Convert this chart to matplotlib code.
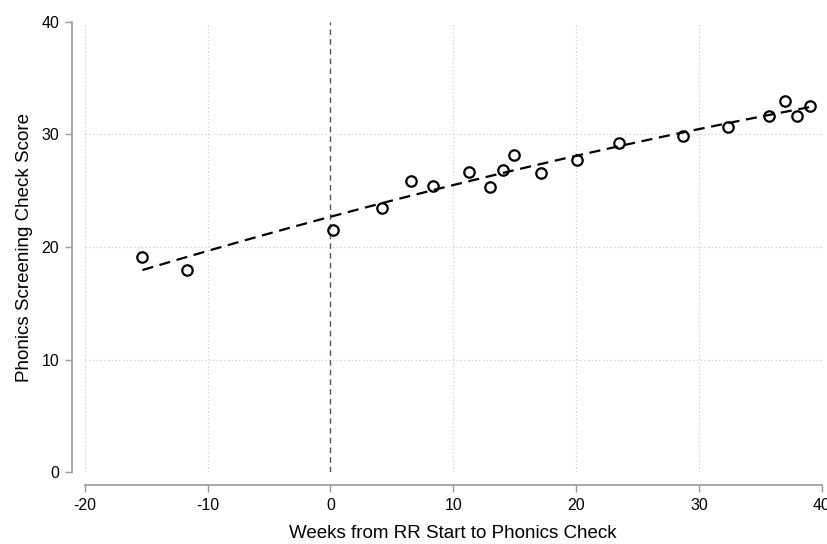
import matplotlib.pyplot as plt
import numpy as np

plt.rcParams['font.family'] = ['Liberation Sans', 'DejaVu Sans']
plt.rcParams['axes.unicode_minus'] = False

# binned means: weeks from RR start vs phonics score
weeks = [-15.3, -11.7, 0.25, 4.2, 6.6, 8.35, 11.3, 13.0, 14.05, 14.95,
         17.15, 20.1, 23.5, 28.7, 32.4, 35.7, 37.05, 38.0, 39.05]
score = [19.1, 17.95, 21.5, 23.45, 25.85, 25.4, 26.65, 25.3, 26.85, 28.15,
         26.55, 27.7, 29.2, 29.85, 30.65, 31.6, 32.95, 31.65, 32.5]

xticks = [-20, -10, 0, 10, 20, 30, 40]
yticks = [0, 10, 20, 30, 40]

fig = plt.figure(figsize=(8.28, 5.44), dpi=100)
ax = fig.add_axes([0.1023, 0.1318, 0.8901, 0.8283])

# grid (Stata style, dotted)
for gx in [-20, -10, 10, 20, 30, 40]:
    ax.axvline(gx, color='#d0d0d0', lw=0.9, ls=(0, (1, 2)), zorder=0)
for gy in [10, 20, 30]:
    ax.axhline(gy, color='#d0d0d0', lw=0.9, ls=(0, (1, 2)), zorder=0)
ax.axvline(0, color='#555555', lw=1.0, ls=(0, (4, 3)), zorder=1)

# quadratic fit
coef = np.polyfit(weeks, score, 2)
xs = np.linspace(min(weeks), max(weeks), 200)
ax.plot(xs, np.polyval(coef, xs), color='black', lw=1.6, ls=(0, (5, 3)), zorder=2)

ax.plot(weeks, score, 'o', mfc='none', mec='black', mew=1.6, ms=7.5, zorder=3)

ax.set_xlim(-20, 40)
ax.set_ylim(0, 40)
ax.set_xticks(xticks)
ax.set_yticks(yticks)
ax.tick_params(axis='both', color='#999999', length=5, width=1, labelsize=11.5,
               labelcolor='black', pad=4)

for s in ['top', 'right']:
    ax.spines[s].set_visible(False)
for s in ['left', 'bottom']:
    ax.spines[s].set_position(('outward', 9.5))
    ax.spines[s].set_color('#999999')
    ax.spines[s].set_linewidth(1.2)

ax.set_xlabel('Weeks from RR Start to Phonics Check', fontsize=13.5, labelpad=9)
ax.set_ylabel('Phonics Screening Check Score', fontsize=13.5, labelpad=6)

fig.savefig('out.png', dpi=100)
